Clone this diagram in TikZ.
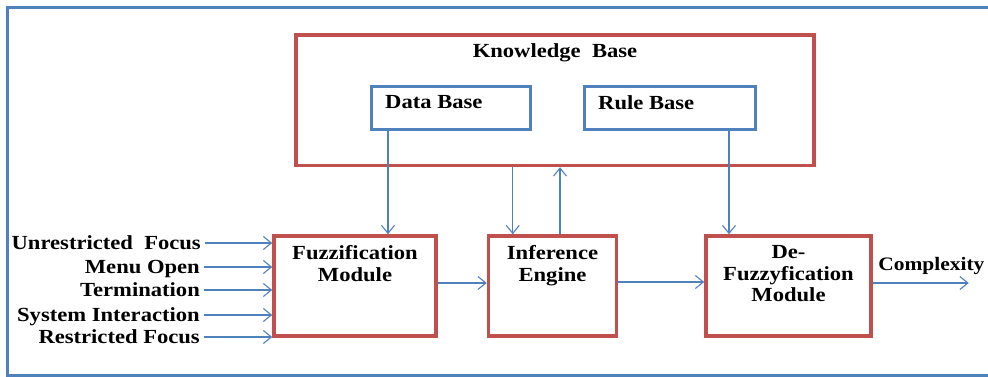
\documentclass[tikz,border=0pt]{standalone}
\usepackage{fontspec}
\setmainfont{Liberation Serif}[FakeStretch=1.13]
\usetikzlibrary{positioning,arrows.meta}

\definecolor{boxred}{RGB}{192,80,77}
\definecolor{boxblue}{RGB}{79,129,189}

\begin{document}
\begin{tikzpicture}[x=1pt,y=-1pt,
    font=\fontsize{20}{21.5}\selectfont\bfseries,
    >={Straight Barb[length=8pt,width=13pt]},
    module/.style={draw=boxred,line width=3.5pt,minimum height=100pt,inner sep=0pt},
    base/.style={draw=boxblue,line width=3pt,minimum height=43pt,inner sep=0pt},
    title/.style={anchor=north,align=center,inner sep=0pt,yshift=-11pt},
    basetitle/.style={anchor=north west,inner sep=0pt,xshift=15pt,yshift=-10pt},
    flow/.style={->,draw=boxblue,line width=1.1pt},
    inp/.style={anchor=east,inner xsep=4pt,inner ysep=0pt,text height=13pt,text depth=0pt}]
  \useasboundingbox (0,0) rectangle (988,377);
  \draw[boxblue,line width=3.5pt] (7.5,7.5) rectangle (1000,375.5);

  % modules
  \node[module,minimum width=162pt,label={[title]north:{Fuzzification\\Module}}] (fuzz) at (355,286) {};
  \node[module,minimum width=128pt,right=49pt of fuzz,label={[title]north:{Inference\\Engine}}] (inf) {};
  \node[module,minimum width=165pt,right=86pt of inf,label={[title]north:{De-\\Fuzzyfication\\Module}}] (defuzz) {};

  % knowledge base
  \node[module,minimum width=518pt,minimum height=130.5pt,above=67pt of inf,xshift=2.5pt,
        label={[title,yshift=1pt]north:Knowledge\ \ Base}] (kb) {};
  \node[base,minimum width=159pt,label={[basetitle]north west:Data Base}] (db) at (451,108) {};
  \node[base,minimum width=171pt,label={[basetitle]north west:Rule Base}] (rb) at (670,108) {};

  % inputs
  \node[inp] (unres) at (205,243) {Unrestricted\ \ Focus};
  \node[inp] (menu) at (204,267) {Menu Open};
  \node[inp] (term) at (204,290) {Termination};
  \node[inp] (sysint) at (204,315) {System Interaction};
  \node[inp] (res) at (204,337) {Restricted Focus};

  \coordinate (out) at ([xshift=96pt,yshift=3pt]defuzz.east);

  \draw[flow] (unres) -- (unres -| fuzz.west);
  \draw[flow] (menu) -- (menu -| fuzz.west);
  \draw[flow] (term) -- (term -| fuzz.west);
  \draw[flow] (sysint) -- (sysint -| fuzz.west);
  \draw[flow] (res) -- (res -| fuzz.west);

  \draw[flow] ([xshift=18pt]db.south west) -- ([xshift=18pt]db.south west |- fuzz.north);
  \draw[flow] ([xshift=-28pt]rb.south east) -- ([xshift=-28pt]rb.south east |- defuzz.north);
  \draw[flow] ([xshift=26pt]inf.north west |- kb.south) -- ([xshift=26pt]inf.north west);
  \draw[flow] ([xshift=7.5pt]inf.north) -- ([xshift=7.5pt]inf.north |- kb.south);

  \draw[flow] ([yshift=3pt]fuzz.east) -- ([yshift=3pt]fuzz.east -| inf.west);
  \draw[flow] ([yshift=4pt]inf.east) -- ([yshift=4pt]inf.east -| defuzz.west);
  \draw[flow] (defuzz.east |- out) -- node[pos=0,anchor=base west,inner sep=0pt,xshift=5pt,yshift=13pt,
        font=\fontsize{19}{21}\selectfont\bfseries] {Complexity} (out);
\end{tikzpicture}
\end{document}
